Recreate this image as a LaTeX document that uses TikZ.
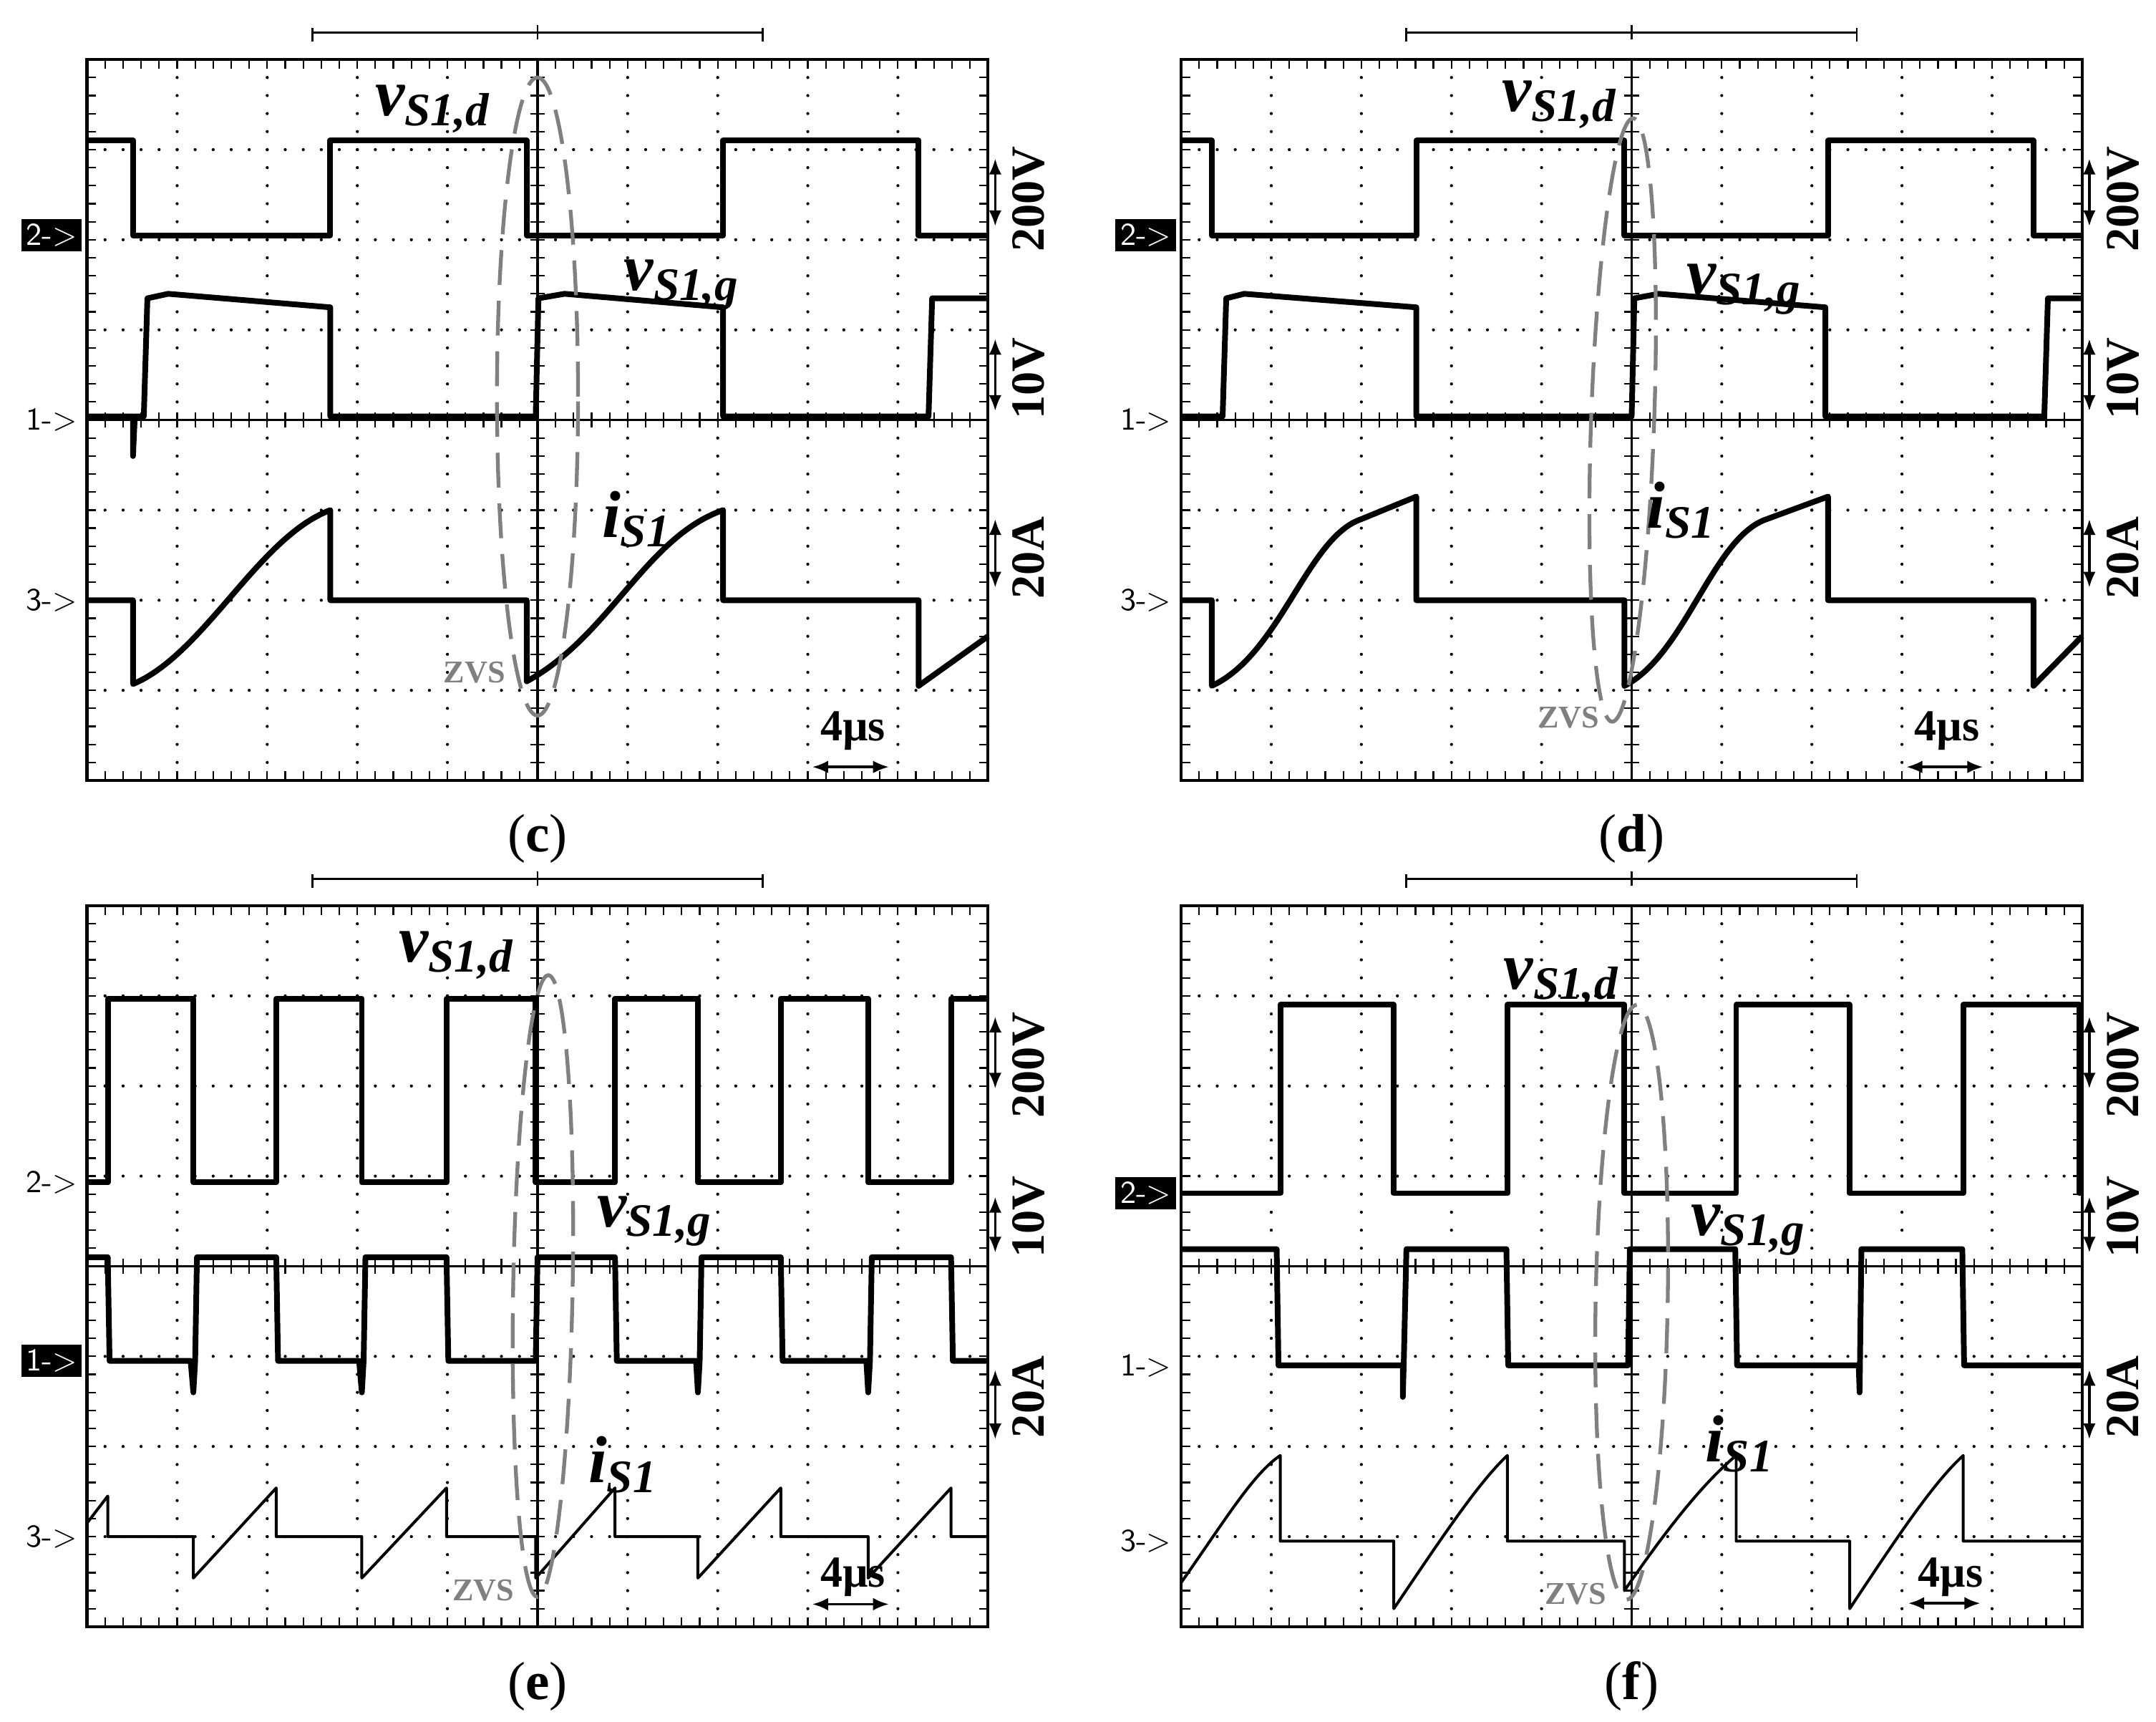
\documentclass[tikz,border=0pt]{standalone}
\usepackage{fontspec}
\setmainfont{Liberation Serif}
\usetikzlibrary{arrows.meta}
\newcommand\oscgrid{%
 \draw[line width=1pt] (0,0) rectangle (10,-8);
 \foreach \i in {1,...,9}{\foreach \k in {1,...,39}{\fill (\i,-\k*0.2) circle (0.017);}}
 \foreach \j in {1,...,7}{\foreach \k in {1,...,49}{\fill (\k*0.2,-\j) circle (0.017);}}
 \foreach \k in {1,...,49}{\draw[line width=0.5pt] (\k*0.2,0)--++(0,-0.1) (\k*0.2,-8)--++(0,0.1) (\k*0.2,-3.92)--(\k*0.2,-4.08);}
 \foreach \k in {1,...,39}{\draw[line width=0.5pt] (0,-\k*0.2)--++(0.1,0) (10,-\k*0.2)--++(-0.1,0) (4.92,-\k*0.2)--(5.08,-\k*0.2);}
 \draw[line width=0.8pt] (5,0)--(5,-8) (0,-4)--(10,-4);
 \draw[line width=0.6pt] (2.5,0.2)--(2.5,0.35) (2.5,0.3)--(7.5,0.3) (7.5,0.2)--(7.5,0.35) (5,0.22)--(5,0.38);
}
\tikzset{
 trace/.style={line width=1.8pt, line join=round},
 thin trace/.style={line width=0.9pt, line join=round},
 lab/.style={font=\fontsize{21}{24}\selectfont\bfseries\itshape, inner sep=0},
 scale lab/.style={font=\fontsize{15}{17}\selectfont\bfseries, rotate=90, inner sep=0},
 zvs/.style={font=\fontsize{10}{12}\selectfont\bfseries, text=gray, inner sep=0},
 zell/.style={draw=gray, line width=1.2pt, dash pattern=on 11pt off 5pt},
 mark lab/.style={font=\fontsize{10}{12}\selectfont\sffamily, anchor=east, inner sep=1.5pt},
 mark box/.style={mark lab, fill=black, text=white},
 captext/.style={font=\fontsize{17}{20}\selectfont},
 dbl/.style={{Latex[length=5pt,width=4pt]}-{Latex[length=5pt,width=4pt]}, line width=0.8pt},
}
\newcommand\vd{\textit{v}\textsubscript{\textit{S}1,\textit{d}}}
\newcommand\vg{\textit{v}\textsubscript{\textit{S}1,\textit{g}}}
\newcommand\iS{\textit{i}\textsubscript{\textit{S}1}}
\begin{document}
\begin{tikzpicture}
\useasboundingbox (0,0) rectangle (23.93,-19.1);
% ---------- (c)
\begin{scope}[shift={(0.966,-0.66)}]
 \oscgrid
 \draw[trace] (0,-0.9)--(0.51,-0.9)--(0.51,-1.95)--(2.70,-1.95)--(2.70,-0.9)--(4.88,-0.9)--(4.88,-1.95)--(7.06,-1.95)--(7.06,-0.9)--(9.23,-0.9)--(9.23,-1.95)--(10,-1.95);
 \draw[trace] (0,-3.96)--(0.51,-3.96)--(0.51,-4.4)--(0.53,-3.96)--(0.63,-3.96)--(0.67,-2.65)--(0.9,-2.6)--(2.70,-2.75)--(2.70,-3.96)--(4.98,-3.96)--(5.01,-2.65)--(5.3,-2.6)--(7.06,-2.75)--(7.06,-3.96)--(9.34,-3.96)--(9.38,-2.65)--(10,-2.65);
 \draw[trace] (0,-6)--(0.51,-6)--(0.51,-6.93) .. controls (1.3,-6.6) and (1.9,-5.3) .. (2.70,-5.0)--(2.70,-6)--(4.88,-6)--(4.88,-6.9) .. controls (5.8,-6.4) and (6.2,-5.3) .. (7.06,-5.0)--(7.06,-6)--(9.23,-6)--(9.23,-6.95)--(10,-6.4);
 \draw[zell] (5.0,-3.74) ellipse [x radius=0.45, y radius=3.54];
 \node[lab] (c-d) at (3.84,-0.55) {\vd};
 \node[lab] (c-g) at (6.6,-2.5) {\vg};
 \node[lab] (c-i) at (6.1,-5.1) {\iS};
 \node[zvs] (c-z) at (4.3,-6.8) {ZVS};
 \node[mark box] (c-m2) at (-0.05,-1.95) {2->};
 \node[mark lab] (c-m1) at (-0.05,-4.0) {1->};
 \node[mark lab] (c-m3) at (-0.05,-6.0) {3->};
 \coordinate (c-a1) at (10.08,-1.1); \coordinate (c-a2) at (10.08,-1.85);
 \draw[dbl] (c-a1)--(c-a2);
 \node[scale lab] (c-s1) at (10.45,-1.55) {200V};
 \coordinate (c-b1) at (10.08,-3.1); \coordinate (c-b2) at (10.08,-3.9);
 \draw[dbl] (c-b1)--(c-b2);
 \node[scale lab] (c-s2) at (10.45,-3.54) {10V};
 \coordinate (c-e1) at (10.08,-5.1); \coordinate (c-e2) at (10.08,-5.86);
 \draw[dbl] (c-e1)--(c-e2);
 \node[scale lab] (c-s3) at (10.45,-5.53) {20A};
 \node[font=\fontsize{14}{16}\selectfont\bfseries] (c-t) at (8.5,-7.45) {4µs};
 \coordinate (c-t1) at (8.05,-7.85); \coordinate (c-t2) at (8.9,-7.85);
 \draw[dbl] (c-t1)--(c-t2);
 \node[captext] (c-cap) at (5,-8.65) {(\textbf{c})};
\end{scope}
% ---------- (d)
\begin{scope}[shift={(13.11,-0.66)}]
 \oscgrid
 \draw[trace] (0,-0.9)--(0.34,-0.9)--(0.34,-1.95)--(2.61,-1.95)--(2.61,-0.9)--(4.92,-0.9)--(4.92,-1.95)--(7.18,-1.95)--(7.18,-0.9)--(9.46,-0.9)--(9.46,-1.95)--(10,-1.95);
 \draw[trace] (0,-3.96)--(0.46,-3.96)--(0.5,-2.65)--(0.7,-2.6)--(2.61,-2.75)--(2.61,-3.96)--(5.0,-3.96)--(5.03,-2.65)--(5.3,-2.6)--(7.15,-2.75)--(7.15,-3.96)--(9.58,-3.96)--(9.62,-2.65)--(10,-2.65);
 \draw[trace] (0,-6)--(0.34,-6)--(0.34,-6.95) .. controls (1.1,-6.6) and (1.4,-5.3) .. (2.0,-5.1)--(2.61,-4.85)--(2.61,-6)--(4.92,-6)--(4.92,-6.95) .. controls (5.6,-6.6) and (5.9,-5.3) .. (6.5,-5.1)--(7.18,-4.85)--(7.18,-6)--(9.46,-6)--(9.46,-6.95)--(10,-6.4);
 \draw[zell] (4.9,-4.0) ellipse [x radius=0.35, y radius=3.35, rotate=-2];
 \node[lab] (d-d) at (4.2,-0.5) {\vd};
 \node[lab] (d-g) at (6.25,-2.55) {\vg};
 \node[lab] (d-i) at (5.55,-5.0) {\iS};
 \node[zvs] (d-z) at (4.3,-7.3) {ZVS};
 \node[mark box] (d-m2) at (-0.05,-1.95) {2->};
 \node[mark lab] (d-m1) at (-0.05,-4.0) {1->};
 \node[mark lab] (d-m3) at (-0.05,-6.0) {3->};
 \coordinate (d-a1) at (10.08,-1.1); \coordinate (d-a2) at (10.08,-1.85);
 \draw[dbl] (d-a1)--(d-a2);
 \node[scale lab] (d-s1) at (10.45,-1.55) {200V};
 \coordinate (d-b1) at (10.08,-3.1); \coordinate (d-b2) at (10.08,-3.9);
 \draw[dbl] (d-b1)--(d-b2);
 \node[scale lab] (d-s2) at (10.45,-3.54) {10V};
 \coordinate (d-e1) at (10.08,-5.1); \coordinate (d-e2) at (10.08,-5.86);
 \draw[dbl] (d-e1)--(d-e2);
 \node[scale lab] (d-s3) at (10.45,-5.53) {20A};
 \node[font=\fontsize{14}{16}\selectfont\bfseries] (d-t) at (8.5,-7.45) {4µs};
 \coordinate (d-t1) at (8.05,-7.85); \coordinate (d-t2) at (8.9,-7.85);
 \draw[dbl] (d-t1)--(d-t2);
 \node[captext] (d-cap) at (5,-8.65) {(\textbf{d})};
\end{scope}
% ---------- (e)
\begin{scope}[shift={(0.966,-10.05)}]
 \oscgrid
 \draw[trace] (0,-3.07)--(0.23,-3.07)--(0.23,-1.03)--(1.18,-1.03)--(1.18,-3.07)--(2.1,-3.07)--(2.1,-1.03)--(3.05,-1.03)--(3.05,-3.07)--(3.99,-3.07)--(3.99,-1.03)--(4.98,-1.03)--(4.98,-3.07)--(5.86,-3.07)--(5.86,-1.03)--(6.78,-1.03)--(6.78,-3.07)--(7.7,-3.07)--(7.7,-1.03)--(8.67,-1.03)--(8.67,-3.07)--(9.59,-3.07)--(9.59,-1.03)--(10,-1.03);
 \draw[trace] (0,-3.9)--(0.23,-3.9)--(0.25,-5.05)--(1.15,-5.05)--(1.18,-5.4)--(1.2,-5.05)--(1.22,-3.9)--(2.1,-3.9)--(2.12,-5.05)--(3.02,-5.05)--(3.05,-5.4)--(3.07,-5.05)--(3.09,-3.9)--(3.99,-3.9)--(4.01,-5.05)--(4.98,-5.05)--(5.0,-3.9)--(5.86,-3.9)--(5.88,-5.05)--(6.76,-5.05)--(6.78,-5.4)--(6.8,-5.05)--(6.82,-3.9)--(7.7,-3.9)--(7.72,-5.05)--(8.65,-5.05)--(8.67,-5.4)--(8.69,-5.05)--(8.71,-3.9)--(9.59,-3.9)--(9.61,-5.05)--(10,-5.05);
 \draw[thin trace] (0,-6.85)--(0.23,-6.55)--(0.23,-7.0)--(1.18,-7.0)--(1.18,-7.46)--(2.1,-6.46)--(2.1,-7.0)--(3.05,-7.0)--(3.05,-7.46)--(3.99,-6.46)--(3.99,-7.0)--(4.98,-7.0)--(4.98,-7.46)--(5.86,-6.46)--(5.86,-7.0)--(6.78,-7.0)--(6.78,-7.46)--(7.7,-6.46)--(7.7,-7.0)--(8.67,-7.0)--(8.67,-7.46)--(9.59,-6.46)--(9.59,-7.0)--(10,-7.0);
 \draw[zell] (5.06,-4.22) ellipse [x radius=0.33, y radius=3.45, rotate=-1];
 \node[lab] (e-d) at (4.1,-0.55) {\vd};
 \node[lab] (e-g) at (6.3,-3.5) {\vg};
 \node[lab] (e-i) at (5.95,-6.2) {\iS};
 \node[zvs] (e-z) at (4.4,-7.6) {ZVS};
 \node[mark lab] (e-m2) at (-0.05,-3.07) {2->};
 \node[mark box] (e-m1) at (-0.05,-5.05) {1->};
 \node[mark lab] (e-m3) at (-0.05,-7.0) {3->};
 \coordinate (e-a1) at (10.08,-1.23); \coordinate (e-a2) at (10.08,-2.03);
 \draw[dbl] (e-a1)--(e-a2);
 \node[scale lab] (e-s1) at (10.45,-1.77) {200V};
 \coordinate (e-b1) at (10.08,-3.23); \coordinate (e-b2) at (10.08,-3.85);
 \draw[dbl] (e-b1)--(e-b2);
 \node[scale lab] (e-s2) at (10.45,-3.45) {10V};
 \coordinate (e-e1) at (10.08,-5.15); \coordinate (e-e2) at (10.08,-5.92);
 \draw[dbl] (e-e1)--(e-e2);
 \node[scale lab] (e-s3) at (10.45,-5.45) {20A};
 \node[font=\fontsize{14}{16}\selectfont\bfseries] (e-t) at (8.5,-7.45) {4µs};
 \coordinate (e-t1) at (8.05,-7.75); \coordinate (e-t2) at (8.9,-7.75);
 \draw[dbl] (e-t1)--(e-t2);
 \node[captext] (e-cap) at (5,-8.66) {(\textbf{e})};
\end{scope}
% ---------- (f)
\begin{scope}[shift={(13.11,-10.05)}]
 \oscgrid
 \draw[trace] (0,-3.19)--(1.10,-3.19)--(1.10,-1.1)--(2.36,-1.1)--(2.36,-3.19)--(3.62,-3.19)--(3.62,-1.1)--(4.92,-1.1)--(4.92,-3.19)--(6.16,-3.19)--(6.16,-1.1)--(7.42,-1.1)--(7.42,-3.19)--(8.68,-3.19)--(8.68,-1.1)--(9.97,-1.1)--(9.97,-3.19)--(10,-3.19);
 \draw[trace] (0,-3.81)--(1.06,-3.81)--(1.08,-5.1)--(2.46,-5.1)--(2.46,-5.45)--(2.47,-5.1)--(2.5,-3.81)--(3.61,-3.81)--(3.63,-5.1)--(4.96,-5.1)--(4.98,-3.81)--(6.15,-3.81)--(6.17,-5.1)--(7.52,-5.1)--(7.53,-5.4)--(7.55,-3.81)--(8.67,-3.81)--(8.69,-5.1)--(10,-5.1);
 \draw[thin trace] (0,-7.51) .. controls (0.5,-6.8) and (0.8,-6.3) .. (1.10,-6.1)--(1.10,-7.05)--(2.36,-7.05)--(2.36,-7.8) .. controls (2.9,-7.0) and (3.3,-6.4) .. (3.62,-6.1)--(3.62,-7.05)--(4.92,-7.05)--(4.92,-7.6) .. controls (5.4,-6.9) and (5.8,-6.4) .. (6.16,-6.1)--(6.16,-7.05)--(7.42,-7.05)--(7.42,-7.8) .. controls (7.95,-7.0) and (8.35,-6.4) .. (8.68,-6.1)--(8.68,-7.05)--(10,-7.05);
 \draw[zell] (5.0,-4.4) ellipse [x radius=0.4, y radius=3.3, rotate=-1];
 \node[lab] (f-d) at (4.22,-0.85) {\vd};
 \node[lab] (f-g) at (6.3,-3.6) {\vg};
 \node[lab] (f-i) at (6.2,-5.97) {\iS};
 \node[zvs] (f-z) at (4.38,-7.64) {ZVS};
 \node[mark box] (f-m2) at (-0.05,-3.19) {2->};
 \node[mark lab] (f-m1) at (-0.05,-5.1) {1->};
 \node[mark lab] (f-m3) at (-0.05,-7.05) {3->};
 \coordinate (f-a1) at (10.08,-1.23); \coordinate (f-a2) at (10.08,-2.03);
 \draw[dbl] (f-a1)--(f-a2);
 \node[scale lab] (f-s1) at (10.45,-1.77) {200V};
 \coordinate (f-b1) at (10.08,-3.23); \coordinate (f-b2) at (10.08,-3.85);
 \draw[dbl] (f-b1)--(f-b2);
 \node[scale lab] (f-s2) at (10.45,-3.45) {10V};
 \coordinate (f-e1) at (10.08,-5.15); \coordinate (f-e2) at (10.08,-5.92);
 \draw[dbl] (f-e1)--(f-e2);
 \node[scale lab] (f-s3) at (10.45,-5.45) {20A};
 \node[font=\fontsize{14}{16}\selectfont\bfseries] (f-t) at (8.54,-7.45) {4µs};
 \coordinate (f-t1) at (8.07,-7.74); \coordinate (f-t2) at (8.87,-7.74);
 \draw[dbl] (f-t1)--(f-t2);
 \node[captext] (f-cap) at (5,-8.66) {(\textbf{f})};
\end{scope}
\end{tikzpicture}
\end{document}
